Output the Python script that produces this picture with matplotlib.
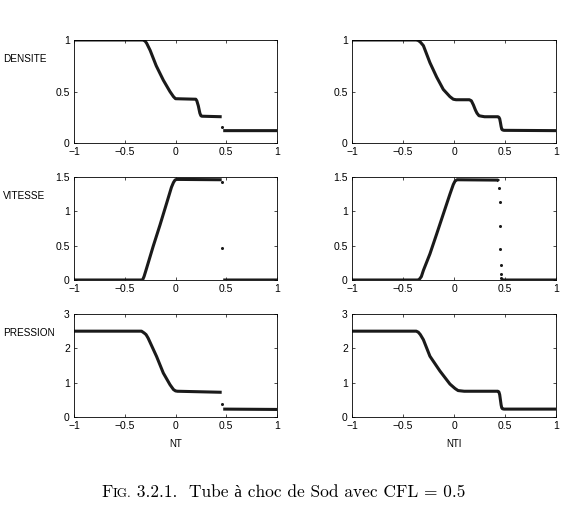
import numpy as np
import matplotlib.pyplot as plt

nan = np.nan
plt.rcParams['font.family'] = ['Liberation Sans', 'DejaVu Sans']

# ---- values (x in [-1, 1]) ----
# NT column
rho_nt_x = [-1, -0.32, -0.30, -0.285, -0.25, -0.19, -0.12, -0.055, -0.02, 0.0, 0.2, 0.21, 0.225, 0.24, 0.25, 0.26, 0.455, nan, 0.47, 1.0]
rho_nt_y = [1, 1, 0.99, 0.97, 0.90, 0.75, 0.61, 0.50, 0.45, 0.43, 0.425, 0.41, 0.36, 0.29, 0.265, 0.26, 0.255, nan, 0.12, 0.12]
rho_nt_dx = [0.461]
rho_nt_dy = [0.155]

u_nt_x = [-1, -0.325, -0.31, -0.285, -0.22, -0.153, -0.087, -0.04, -0.02, -0.005, 0.01, 0.455, nan, 0.47, 1]
u_nt_y = [0, 0, 0.05, 0.17, 0.49, 0.80, 1.12, 1.35, 1.42, 1.455, 1.465, 1.46, nan, 0, 0]
u_nt_dx = [0.459, 0.461]
u_nt_dy = [1.42, 0.46]

p_nt_x = [-1, -0.335, -0.31, -0.29, -0.27, -0.186, -0.12, -0.054, -0.02, 0.0, 0.02, 0.455, nan, 0.47, 1]
p_nt_y = [2.5, 2.5, 2.45, 2.4, 2.3, 1.76, 1.28, 0.94, 0.8, 0.76, 0.75, 0.72, nan, 0.23, 0.22]
p_nt_dx = [0.461]
p_nt_dy = [0.37]

# NTI column
rho_nti_x = [-1, -0.37, -0.35, -0.33, -0.30, -0.236, -0.17, -0.105, -0.04, -0.007, 0.02, 0.15, 0.17, 0.19,
             0.21, 0.225, 0.245, 0.27, 0.3, 0.43, 0.44, 0.448, 0.455, 0.462, 0.468, 0.475, 0.49, 1]
rho_nti_y = [1, 1, 0.995, 0.98, 0.945, 0.78, 0.64, 0.52, 0.45, 0.425, 0.42, 0.42, 0.41, 0.37,
             0.32, 0.29, 0.265, 0.26, 0.255, 0.255, 0.25, 0.235, 0.2, 0.16, 0.135, 0.127, 0.123, 0.12]
rho_nti_dx = []
rho_nti_dy = []

u_nti_x = [-1, -0.355, -0.34, -0.32, -0.30, -0.236, -0.17, -0.105, -0.04, -0.007, 0.01, 0.03, 0.43, 0.44,
           nan, 0.468, 0.48, 0.5, 1]
u_nti_y = [0, 0, 0.01, 0.05, 0.14, 0.38, 0.67, 0.96, 1.25, 1.39, 1.44, 1.46, 1.455, 1.44,
           nan, 0.01, 0.0, 0, 0]
u_nti_dx = [0.446, 0.449, 0.452, 0.455, 0.458, 0.461, 0.464]
u_nti_dy = [1.34, 1.13, 0.79, 0.45, 0.22, 0.09, 0.03]

p_nti_x = [-1, -0.37, -0.35, -0.33, -0.30, -0.236, -0.138, -0.04, 0.01, 0.04, 0.1, 0.43, 0.44,
           0.448, 0.455, 0.462, 0.468, 0.475, 0.49, 1]
p_nti_y = [2.5, 2.5, 2.47, 2.4, 2.25, 1.77, 1.34, 0.96, 0.83, 0.77, 0.75, 0.75, 0.73,
           0.65, 0.5, 0.35, 0.27, 0.24, 0.23, 0.23]
p_nti_dx = []
p_nti_dy = []

row_names = ['DENSITE', 'VITESSE', 'PRESSION']
col_names = ['NT', 'NTI']
yticks = [[0, 0.5, 1], [0, 0.5, 1, 1.5], [0, 1, 2, 3]]
ytick_labels = [['0', '0.5', '1'], ['0', '0.5', '1', '1.5'], ['0', '1', '2', '3']]
xticks = [-1, -0.5, 0, 0.5, 1]
xtick_labels = ['\u22121', '\u22120.5', '0', '0.5', '1']

curves = [[(rho_nt_x, rho_nt_y, rho_nt_dx, rho_nt_dy), (rho_nti_x, rho_nti_y, rho_nti_dx, rho_nti_dy)],
          [(u_nt_x, u_nt_y, u_nt_dx, u_nt_dy), (u_nti_x, u_nti_y, u_nti_dx, u_nti_dy)],
          [(p_nt_x, p_nt_y, p_nt_dx, p_nt_dy), (p_nti_x, p_nti_y, p_nti_dx, p_nti_dy)]]

W, H = 563, 527
fig = plt.figure(figsize=(W / 100, H / 100), dpi=100)

col_left = [74, 352]
col_w = [203, 204]
row_top = [40, 177, 314]
row_h = 103

for r in range(3):
    for c in range(2):
        ax = fig.add_axes([col_left[c] / W, 1 - (row_top[r] + row_h) / H, col_w[c] / W, row_h / H])
        x, y, dx, dy = curves[r][c]
        ax.plot(x, y, '-', color='#1a1a1a', lw=2.2, solid_capstyle='butt')
        if dx:
            ax.plot(dx, dy, 'o', color='#1a1a1a', ms=2.2, mew=0)
        ax.set_xlim(-1, 1)
        ax.set_ylim(yticks[r][0], yticks[r][-1])
        ax.set_xticks(xticks)
        ax.set_xticklabels(xtick_labels)
        ax.set_yticks(yticks[r])
        ax.set_yticklabels(ytick_labels[r])
        ax.tick_params(direction='in', length=2.5, width=0.5, top=True, right=True,
                       labelsize=7.5, pad=3)
        for s in ax.spines.values():
            s.set_linewidth(0.6)

for r, name in enumerate(row_names):
    fig.text(3 / W, 1 - (row_top[r] + 19) / H, name, ha='left', va='center', fontsize=7.2)

fig.text(176 / W, 1 - 444 / H, col_names[0], ha='center', va='center', fontsize=7)
fig.text(454 / W, 1 - 444 / H, col_names[1], ha='center', va='center', fontsize=7)

# caption with small caps "FIG."
serif = ['cmr10', 'Liberation Serif']
renderer = fig.canvas.get_renderer()
cap_y = 1 - 497 / H
pieces = [('F', 12.5), ('IG.', 9.5), (' 3.2.1.  Tube \u00e0 choc de Sod avec CFL = 0.5', 12.5)]
xpos = 101 / W
for txt, size in pieces:
    t = fig.text(xpos, cap_y, txt, ha='left', va='baseline', fontsize=size, family=serif)
    bb = t.get_window_extent(renderer=renderer)
    xpos += bb.width / W

fig.savefig('out.png', dpi=100)
